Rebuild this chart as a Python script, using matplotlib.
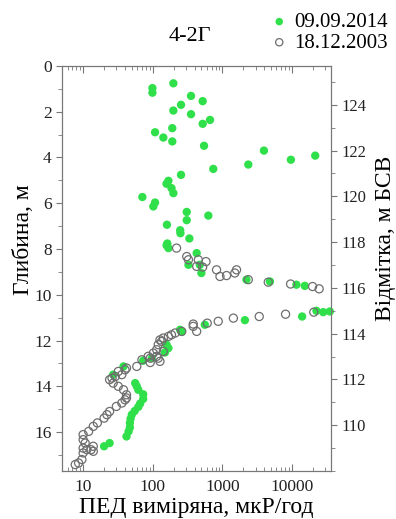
import matplotlib
matplotlib.use("Agg")
import matplotlib.pyplot as plt
from matplotlib.ticker import LogLocator, MultipleLocator, NullFormatter, FixedLocator

plt.rcParams['font.family'] = ['Liberation Serif', 'DejaVu Serif']

# 09.09.2014 survey: dose rate (мкР/год) and depth (м)
ped_2014 = [198, 99, 99, 355, 522, 255, 198, 355, 665, 522,
            191, 108, 142, 191, 546, 3960, 21600, 9660, 2360, 741,
            255, 168, 158, 186, 198, 71, 108, 102, 308, 629,
            308, 160, 248, 250, 336, 162, 158, 168, 428, 475,
            326, 500, 2220, 4830, 11600, 15300,
            35000, 28100, 22500, 14000, 2110, 560, 261, 247, 168, 158,
            150, 97, 73, 38, 27, 56, 59, 62, 73, 73,
            66, 62, 55, 50, 48, 47, 47, 45, 42, 24, 20]
depth_2014 = [0.76, 0.97, 1.17, 1.31, 1.54, 1.70, 1.95, 2.11, 2.36, 2.53,
              2.72, 2.90, 3.13, 3.30, 3.49, 3.70, 3.92, 4.10, 4.31, 4.50,
              4.76, 5.02, 5.15, 5.34, 5.56, 5.73, 5.97, 6.14, 6.38, 6.54,
              6.74, 6.94, 7.18, 7.31, 7.54, 7.76, 7.84, 7.96, 8.18, 8.69,
              8.69, 9.05, 9.34, 9.42, 9.56, 9.61,
              10.73, 10.76, 10.70, 10.95, 11.11, 11.31, 11.62, 11.53, 12.33, 12.18,
              12.52, 12.77, 12.88, 13.13, 13.49, 13.86, 14.00, 14.15, 14.35, 14.55,
              14.75, 14.90, 15.08, 15.24, 15.42, 15.60, 15.80, 15.97, 16.19, 16.48, 16.62]

# 18.12.2003 survey
ped_2003 = [220, 308, 326, 452, 582, 428, 522, 826, 925, 1150,
            1600, 1510, 2360, 4570, 9560, 19800, 24600,
            20600, 8100, 3390, 1440, 873, 607, 382, 382, 428,
            261, 210, 186, 168, 142, 127, 134, 120, 114, 142,
            102, 86, 114, 92, 120, 127, 92, 70, 59, 42,
            32, 40, 36, 29, 26, 24, 27, 32, 38, 42,
            42, 40, 36, 30, 24, 22, 20, 16, 14, 12,
            10, 10, 10.7, 14, 10, 11.3, 13, 14, 10, 9.6, 8.6, 7.7]
depth_2003 = [7.96, 8.33, 8.47, 8.47, 8.55, 8.76, 8.79, 8.91, 9.20, 9.16,
              8.91, 9.05, 9.34, 9.45, 9.53, 9.64, 9.74,
              10.76, 10.85, 10.95, 11.02, 11.16, 11.24, 11.28, 11.38, 11.60,
              11.60, 11.67, 11.75, 11.82, 11.89, 11.97, 12.04, 12.18, 12.40, 12.48,
              12.55, 12.69, 12.69, 12.77, 12.77, 12.91, 12.96, 12.84, 13.13, 13.20,
              13.35, 13.28, 13.49, 13.57, 13.64, 13.71, 13.86, 14.00, 14.15, 14.37,
              14.51, 14.59, 14.73, 14.88, 15.10, 15.24, 15.39, 15.60, 15.75, 15.97,
              16.11, 16.33, 16.48, 16.62, 16.70, 16.77, 16.77, 16.84, 16.91, 17.20, 17.35, 17.42]

top_elev = 125.7   # м БСВ at depth 0
depth_max = 17.7

fig = plt.figure(figsize=(3.96, 5.19), dpi=100)
ax = fig.add_axes([0.157, 0.0925, 0.678, 0.7805])

ax.scatter(ped_2014, depth_2014, s=36, color='#2fe04a', edgecolors='none',
           label='09.09.2014', zorder=3, clip_on=False)
ax.scatter(ped_2003, depth_2003, s=34, facecolors='none', edgecolors='#6e6e6e',
           linewidths=0.9, label='18.12.2003', zorder=4, clip_on=False)

ax.set_xscale('log')
ax.set_xlim(5, 36000)
ax.set_ylim(depth_max, 0)
ax.xaxis.set_major_locator(FixedLocator([10, 100, 1000, 10000]))
ax.xaxis.set_minor_locator(LogLocator(base=10, subs=range(2, 10)))
ax.xaxis.set_minor_formatter(NullFormatter())
ax.set_xticklabels(['10', '100', '1000', '10000'])
ax.yaxis.set_major_locator(MultipleLocator(2))
ax.yaxis.set_minor_locator(MultipleLocator(1))

gray = '#777777'
for sp in ax.spines.values():
    sp.set_color(gray)
ax.tick_params(axis='x', which='both', direction='in', top=True, colors=gray,
               labelcolor='#222222', labelsize=12.5, pad=6)
ax.tick_params(axis='x', which='major', length=5)
ax.tick_params(axis='x', which='minor', length=3)
ax.tick_params(axis='y', which='both', direction='out', right=False, colors=gray,
               labelcolor='#222222', labelsize=12.5)
ax.tick_params(axis='y', which='major', length=4)
ax.tick_params(axis='y', which='minor', length=3)

ax.set_xlabel('ПЕД виміряна, мкР/год', fontsize=17, labelpad=1)
ax.set_ylabel('Глибина, м', fontsize=17)
ax.yaxis.set_label_coords(-0.105, 0.57)

ax2 = ax.twinx()
ax2.set_ylim(top_elev - depth_max, top_elev)
ax2.yaxis.set_minor_locator(MultipleLocator(1))
ax2.set_yticks([110, 112, 114, 116, 118, 120, 122, 124])
for sp in ax2.spines.values():
    sp.set_color(gray)
ax2.tick_params(axis='y', which='both', direction='out', colors=gray,
                labelcolor='#222222', labelsize=12)
ax2.tick_params(axis='y', which='major', length=4)
ax2.tick_params(axis='y', which='minor', length=3)
ax2.set_ylabel('Відмітка, м БСВ', fontsize=17)
ax2.yaxis.set_label_coords(1.165, 0.575)

fig.text(0.48, 0.93, '4-2Г', fontsize=16, ha='center', va='center')
fig.legend(loc='upper right', bbox_to_anchor=(1.01, 1.0), frameon=False,
           fontsize=15, handletextpad=0.2, labelspacing=0.05,
           borderaxespad=0.2, handlelength=1.0, markerscale=0.9)

plt.savefig('out.png', dpi=100)
